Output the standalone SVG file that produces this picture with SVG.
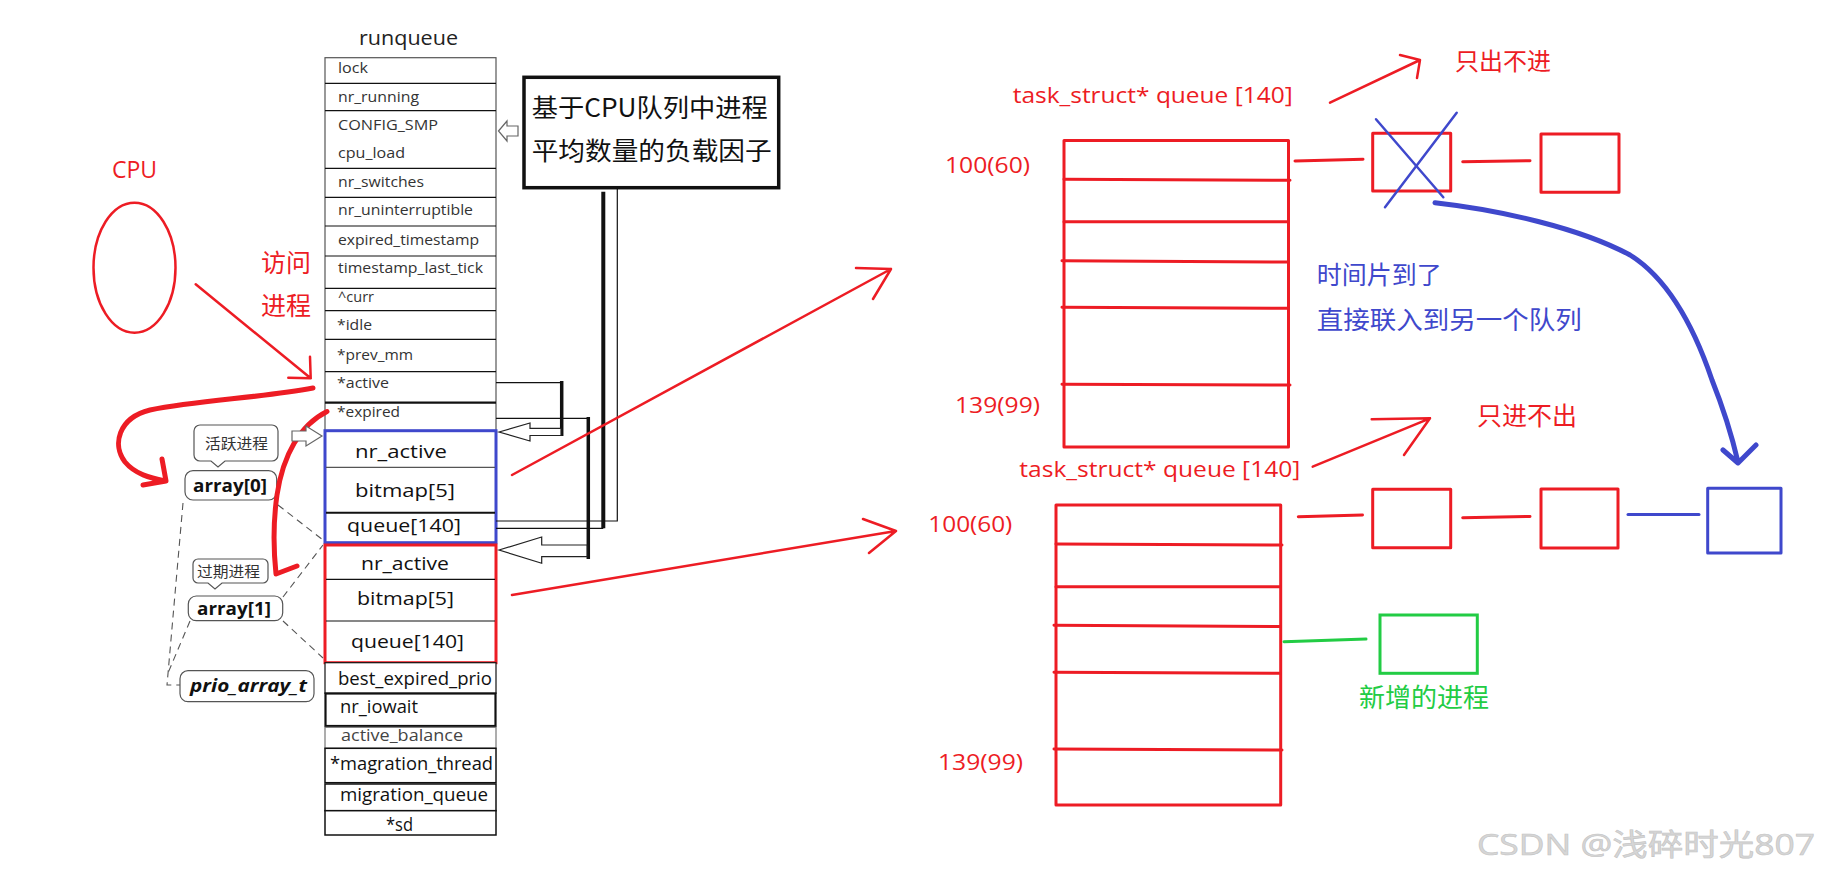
<svg xmlns="http://www.w3.org/2000/svg" width="1821" height="877" viewBox="0 0 1821 877">
<defs>
<style>
.t{font-family:"Open Sans","Noto Sans","Noto Sans CJK SC",sans-serif}
.rq{font-size:15px;fill:#333}
.big{font-size:19px;fill:#111}
.cell{fill:none;stroke:#555;stroke-width:1.2}
.cellb{fill:#fff;stroke:#111}
.red{fill:#ed1c24}
.blue{fill:#3f48cc}
.rs{fill:none;stroke:#ed1c24;stroke-linecap:round;stroke-linejoin:round}
.bs{fill:none;stroke:#3f48cc;stroke-linecap:round;stroke-linejoin:round}
.gs{fill:none;stroke:#22cc44;stroke-width:3;stroke-linecap:round}
.k{fill:none;stroke:#111;stroke-width:1.2}
.kt{fill:none;stroke:#111;stroke-width:3.5}
.hol{fill:#fff;stroke-width:1.2}
.dash{fill:none;stroke:#555;stroke-width:1.1;stroke-dasharray:7,5}
.cjk{font-family:"Noto Sans CJK SC","Noto Sans",sans-serif}
.bub{fill:#fff;stroke:#555;stroke-width:1.2}
.arr{font-family:"Open Sans","Noto Sans",sans-serif;font-weight:bold;font-size:17px;fill:#111}
</style>
</defs>
<rect width="1821" height="877" fill="#fff"/>

<!-- runqueue table -->
<g id="runqueue">
<text class="t" x="359" y="45" font-size="20" fill="#222" textLength="99" lengthAdjust="spacingAndGlyphs">runqueue</text>
<rect x="325" y="57.7" width="171" height="373" class="cell"/>
<g class="k" stroke="#555">
<line x1="325" y1="83.3" x2="496" y2="83.3"/>
<line x1="325" y1="110.7" x2="496" y2="110.7"/>
<line x1="325" y1="168.3" x2="496" y2="168.3"/>
<line x1="325" y1="197.3" x2="496" y2="197.3"/>
<line x1="325" y1="226" x2="496" y2="226"/>
<line x1="325" y1="256" x2="496" y2="256"/>
<line x1="325" y1="288.3" x2="496" y2="288.3"/>
<line x1="325" y1="310.7" x2="496" y2="310.7"/>
<line x1="325" y1="339.3" x2="496" y2="339.3"/>
<line x1="325" y1="371.7" x2="496" y2="371.7"/>
</g>
<line x1="325" y1="402.7" x2="496" y2="402.7" stroke="#111" stroke-width="2.2"/>
<g class="t rq">
<text x="338" y="73" textLength="30" lengthAdjust="spacingAndGlyphs">lock</text>
<text x="338" y="101.7" textLength="81" lengthAdjust="spacingAndGlyphs">nr_running</text>
<text x="338" y="130" textLength="100" lengthAdjust="spacingAndGlyphs">CONFIG_SMP</text>
<text x="338" y="158" textLength="67" lengthAdjust="spacingAndGlyphs">cpu_load</text>
<text x="338" y="186.7" textLength="86" lengthAdjust="spacingAndGlyphs">nr_switches</text>
<text x="338" y="215" textLength="135" lengthAdjust="spacingAndGlyphs">nr_uninterruptible</text>
<text x="338" y="245" textLength="141" lengthAdjust="spacingAndGlyphs">expired_timestamp</text>
<text x="338" y="273" textLength="145" lengthAdjust="spacingAndGlyphs">timestamp_last_tick</text>
<text x="338" y="301.7" textLength="36" lengthAdjust="spacingAndGlyphs">^curr</text>
<text x="337" y="330" textLength="35" lengthAdjust="spacingAndGlyphs">*idle</text>
<text x="337" y="360" textLength="76" lengthAdjust="spacingAndGlyphs">*prev_mm</text>
<text x="337" y="388" textLength="52" lengthAdjust="spacingAndGlyphs">*active</text>
<text x="337" y="416.7" textLength="63" lengthAdjust="spacingAndGlyphs">*expired</text>
</g>
</g>

<g id="array-active">
<rect x="325" y="430.7" width="171" height="112" fill="none" stroke="#3f48cc" stroke-width="3"/>
<line x1="326" y1="467.3" x2="495" y2="467.3" stroke="#555" stroke-width="1.2"/>
<line x1="326" y1="512.7" x2="495" y2="512.7" stroke="#111" stroke-width="2"/>
<g class="t big">
<text x="355" y="458" textLength="92" lengthAdjust="spacingAndGlyphs">nr_active</text>
<text x="355" y="496.7" textLength="100" lengthAdjust="spacingAndGlyphs">bitmap[5]</text>
<text x="347" y="531.7" textLength="114" lengthAdjust="spacingAndGlyphs">queue[140]</text>
</g>
</g>

<g id="array-expired">
<rect x="325" y="545" width="171" height="117.7" fill="none" stroke="#ed1c24" stroke-width="3"/>
<line x1="326" y1="579.3" x2="495" y2="579.3" stroke="#111" stroke-width="1.2"/>
<line x1="326" y1="621" x2="495" y2="621" stroke="#111" stroke-width="1.2"/>
<g class="t big">
<text x="361" y="570" textLength="88" lengthAdjust="spacingAndGlyphs">nr_active</text>
<text x="357" y="605" textLength="97" lengthAdjust="spacingAndGlyphs">bitmap[5]</text>
<text x="351" y="648.3" textLength="113" lengthAdjust="spacingAndGlyphs">queue[140]</text>
</g>
</g>

<g id="runqueue-tail">
<rect x="325" y="662.7" width="171" height="30.6" class="cellb" style="stroke-width:1.2"/>
<rect x="325.5" y="693.5" width="170" height="32.5" class="cellb" style="stroke-width:2.2"/>
<rect x="325" y="727.3" width="171" height="21" class="cellb" style="stroke:#777;stroke-width:1.2"/>
<rect x="325" y="748.3" width="171" height="34.4" class="cellb" style="stroke-width:1.5"/>
<rect x="325" y="784" width="171" height="26.7" class="cellb" style="stroke-width:1.5"/>
<rect x="325" y="810.7" width="171" height="24.3" class="cellb" style="stroke-width:1.5"/>
<g class="t big">
<text x="338" y="685" textLength="154" lengthAdjust="spacingAndGlyphs">best_expired_prio</text>
<text x="340" y="712.7" textLength="78" lengthAdjust="spacingAndGlyphs">nr_iowait</text>
<text x="341" y="740.7" textLength="122" lengthAdjust="spacingAndGlyphs" fill="#444" font-size="17">active_balance</text>
<text x="330" y="770" textLength="163" lengthAdjust="spacingAndGlyphs">*magration_thread</text>
<text x="340" y="800.7" textLength="148" lengthAdjust="spacingAndGlyphs">migration_queue</text>
<text x="386" y="831" textLength="27" lengthAdjust="spacingAndGlyphs">*sd</text>
</g>
</g>

<g id="load-factor">
<rect x="524" y="77.3" width="254.7" height="110.4" fill="#fff" stroke="#111" stroke-width="3.5"/>
<text class="cjk" x="531.7" y="116.7" font-size="25" fill="#111" textLength="236" lengthAdjust="spacingAndGlyphs">基于CPU队列中进程</text>
<text class="cjk" x="531.7" y="160" font-size="25" fill="#111" textLength="240" lengthAdjust="spacingAndGlyphs">平均数量的负载因子</text>
</g>

<g id="cpu">
<text class="t red" x="112" y="178" font-size="23">CPU</text>
<ellipse cx="134.5" cy="267.7" rx="41" ry="65" class="rs" style="stroke-width:2.5"/>
<text class="cjk red" x="261" y="271.7" font-size="25">访问</text>
<text class="cjk red" x="261" y="315" font-size="25">进程</text>
</g>

<g id="prio-arrays">
<path class="bub" d="M200,425 H272 A6,6 0 0 1 278,431 V455 A6,6 0 0 1 272,461 H225 L218,467 L211,461 H200 A6,6 0 0 1 194,455 V431 A6,6 0 0 1 200,425 Z"/>
<text class="cjk" x="205" y="449" font-size="15" fill="#333" textLength="63" lengthAdjust="spacingAndGlyphs">活跃进程</text>
<rect x="185" y="470.7" width="91.7" height="29.3" rx="8" class="bub"/>
<text class="arr" x="193" y="492" textLength="74" lengthAdjust="spacingAndGlyphs">array[0]</text>
<path class="bub" d="M198,559 H263 A5,5 0 0 1 268,564 V578 A5,5 0 0 1 263,583 H222 L215,589 L208,583 H198 A5,5 0 0 1 193,578 V564 A5,5 0 0 1 198,559 Z"/>
<text class="cjk" x="197" y="577" font-size="15" fill="#333" textLength="63" lengthAdjust="spacingAndGlyphs">过期进程</text>
<rect x="188.3" y="596" width="94.4" height="24.7" rx="8" class="bub"/>
<text class="arr" x="197" y="615" textLength="74" lengthAdjust="spacingAndGlyphs">array[1]</text>
<rect x="180" y="670.7" width="134" height="31" rx="8" class="bub"/>
<text class="arr" x="190" y="692" font-style="italic" textLength="117" lengthAdjust="spacingAndGlyphs">prio_array_t</text>
</g>

<g id="queue-top">
<text class="t red" x="1012.7" y="103.3" font-size="22" textLength="280" lengthAdjust="spacingAndGlyphs">task_struct* queue [140]</text>
<text class="t red" x="945" y="173.3" font-size="22" textLength="85" lengthAdjust="spacingAndGlyphs">100(60)</text>
<text class="t red" x="955" y="413.3" font-size="22" textLength="85" lengthAdjust="spacingAndGlyphs">139(99)</text>
<rect x="1064" y="140.5" width="224.5" height="306.5" class="rs" style="stroke-width:3"/>
<g class="rs" style="stroke-width:3">
<line x1="1064" y1="179.3" x2="1290" y2="180.3"/>
<line x1="1064" y1="221.7" x2="1288" y2="221.7"/>
<line x1="1062" y1="260.7" x2="1288" y2="262"/>
<line x1="1062" y1="307.3" x2="1288" y2="308.3"/>
<line x1="1062" y1="384.3" x2="1290" y2="385"/>
</g>
<text class="cjk red" x="1455" y="70" font-size="24">只出不进</text>
</g>

<g id="queue-bottom">
<text class="t red" x="1019.3" y="476.7" font-size="22" textLength="281" lengthAdjust="spacingAndGlyphs">task_struct* queue [140]</text>
<text class="t red" x="928.3" y="531.7" font-size="22" textLength="84" lengthAdjust="spacingAndGlyphs">100(60)</text>
<text class="t red" x="938" y="770" font-size="22" textLength="85" lengthAdjust="spacingAndGlyphs">139(99)</text>
<rect x="1056" y="505" width="224.7" height="300" class="rs" style="stroke-width:3"/>
<g class="rs" style="stroke-width:3">
<line x1="1056" y1="544" x2="1282" y2="545"/>
<line x1="1056" y1="586.7" x2="1280" y2="586.7"/>
<line x1="1054" y1="625.3" x2="1280" y2="626.5"/>
<line x1="1054" y1="672.3" x2="1280" y2="673.3"/>
<line x1="1054" y1="749" x2="1282" y2="750"/>
</g>
<text class="cjk red" x="1477" y="425" font-size="25">只进不出</text>
</g>

<g id="task-top-1">
<rect x="1372.7" y="133.3" width="78" height="57.7" class="rs" style="stroke-width:3"/>
<line x1="1376" y1="119.3" x2="1443.3" y2="197.3" class="bs" style="stroke-width:2.5"/>
<line x1="1456.7" y1="112.7" x2="1385" y2="207.3" class="bs" style="stroke-width:2.5"/>
</g>
<g id="task-top-2"><rect x="1541" y="134" width="78" height="58.3" class="rs" style="stroke-width:3"/></g>
<g id="task-bottom-1"><rect x="1372.7" y="489.3" width="78" height="58.4" class="rs" style="stroke-width:3"/></g>
<g id="task-bottom-2"><rect x="1541" y="489" width="77" height="59" class="rs" style="stroke-width:3"/></g>
<g id="task-bottom-3"><rect x="1707.7" y="488.3" width="73.3" height="64.7" class="bs" style="stroke-width:3"/></g>
<g id="task-new">
<rect x="1380" y="615" width="97.3" height="58.3" class="gs"/>
<text class="cjk" x="1359" y="706.7" font-size="26" fill="#22cc44">新增的进程</text>
</g>
<g id="note">
<text class="cjk blue" x="1316.7" y="284" font-size="25">时间片到了</text>
<text class="cjk blue" x="1316.7" y="329.3" font-size="25" textLength="265" lengthAdjust="spacingAndGlyphs">直接联入到另一个队列</text>
</g>

<g id="connectors">
<path class="rs" style="stroke-width:2.5" d="M195.7,284.3 L310.7,378.3 M310,356.7 L310.7,378.3 L288.3,377.7"/>
<path class="rs" style="stroke-width:5" d="M313,388 C260,398 200,400 150,410 C118,418 112,445 125,462 C135,474 150,478 165,481 M162,459 L166,481 L143,485"/>
<path class="rs" style="stroke-width:5" d="M327,411.5 C300,425 283,455 277,495 C272,530 274,555 276,574 L297,566"/>
<line x1="496" y1="382.7" x2="561.7" y2="382.7" class="k"/>
<line x1="561.7" y1="381" x2="561.7" y2="436" class="kt"/>
<path class="hol" style="stroke:#222" d="M499,432 L530,423 L530,428.3 L561,428.3 L561,435.5 L530,435.5 L530,441 Z"/>
<line x1="496" y1="418.3" x2="588.3" y2="418.3" class="k"/>
<line x1="588.3" y1="417" x2="588.3" y2="559" class="kt"/>
<path class="hol" style="stroke:#222" d="M499,550 L541.7,537 L541.7,545 L587,545 L587,556.7 L541.7,556.7 L541.7,563.3 Z"/>
<path class="k" d="M496,521 H617.3 V188"/>
<path class="k" d="M496,528.3 H603.3"/>
<line x1="603.3" y1="191.7" x2="603.3" y2="528.3" stroke="#111" stroke-width="4"/>
<path class="hol" style="stroke:#666" d="M498.5,131 L507,121 L507,126 L518,126 L518,136 L507,136 L507,141 Z"/>
<path class="hol" style="stroke:#666" d="M292,431 L306,431 L306,426 L322,436 L306,446 L306,441 L292,441 Z"/>
<path class="dash" d="M183,503 L167,685 L180,685"/>
<line x1="190" y1="621" x2="168" y2="673" class="dash"/>
<line x1="278" y1="505" x2="323" y2="540" class="dash"/>
<line x1="283" y1="597" x2="323" y2="545" class="dash"/>
<line x1="283" y1="621" x2="323" y2="658" class="dash"/>
<path class="rs" style="stroke-width:2.5" d="M512,475 L891,269 M856,268 L891,269 L873,299"/>
<path class="rs" style="stroke-width:2.5" d="M512,595 L896,531 M863,519 L896,531 L869,553"/>
<path class="rs" style="stroke-width:2.5" d="M1330,102.7 L1420,60 M1400,55 L1420,60 L1417,78"/>
<path class="rs" style="stroke-width:2.5" d="M1312.7,466.7 L1430,418.3 M1371.7,419.3 L1430,418.3 L1404,455"/>
<path class="rs" style="stroke-width:3" d="M1295,161 L1363,159.3 M1462.7,161.7 L1530,160.7"/>
<path class="rs" style="stroke-width:3" d="M1298.3,516.7 L1362.5,515 M1462.7,517.7 L1530,516.5"/>
<line x1="1628" y1="514.5" x2="1699" y2="514.5" class="bs" style="stroke-width:3"/>
<line x1="1284" y1="641.7" x2="1366" y2="639" class="gs"/>
<path class="bs" style="stroke-width:5" d="M1435,202.7 C1500,210 1580,228 1630,255 C1670,280 1695,330 1712,380 C1728,420 1734,445 1738,462 M1723,450 L1738,463 L1756,445"/>
</g>

<text class="t" x="1477" y="855" font-size="30" fill="#d6d6d6" stroke="#c4c4c4" stroke-width="0.6" textLength="338" lengthAdjust="spacingAndGlyphs">CSDN @浅碎时光807</text>
</svg>
